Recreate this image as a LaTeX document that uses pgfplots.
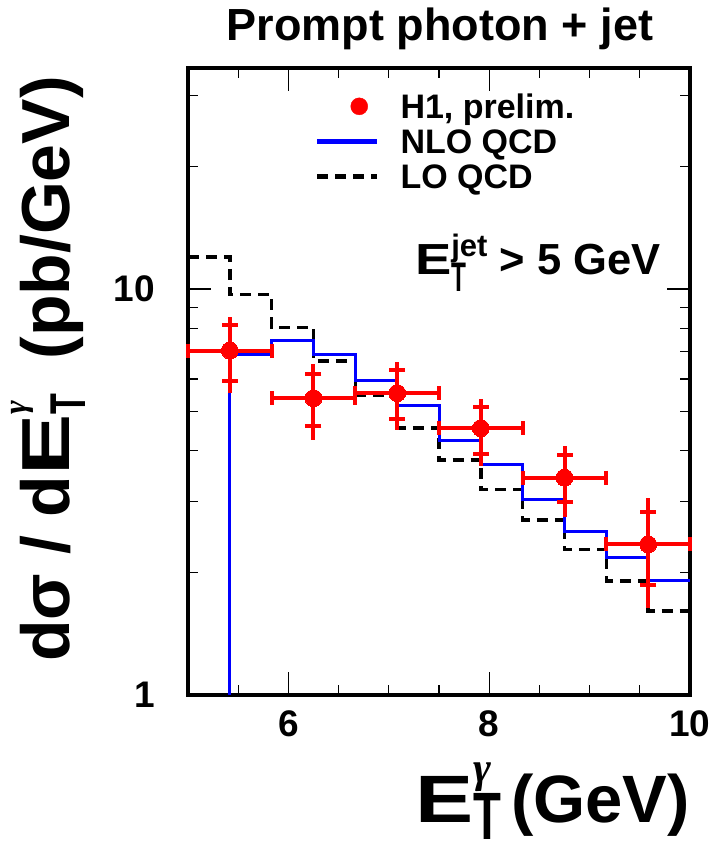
\documentclass[border=0pt]{standalone}
\usepackage{fontspec}
\setmainfont{Liberation Sans}
\newfontfamily\gfont{Liberation Serif}
\usepackage{graphicx}
\usepackage{pgfplots}
\usepackage{pgfplotstable}
\pgfplotsset{compat=1.18}

% sub- and superscript stacked at the same x, ROOT style
\newcommand{\SubSup}[2]{%
  \setbox0=\hbox{#1}\setbox2=\hbox{#2}%
  \ifdim\wd0>\wd2 \dimen0=\wd0 \else \dimen0=\wd2 \fi
  \rlap{\box0}\rlap{\box2}\hspace*{\dimen0}}
\newcommand{\gam}[1]{{\fontsize{#1}{#1}\selectfont\gfont\itshape γ}}

% data: x, y, half bin width, total +/-, stat band edges, bin edges
\pgfplotstableread{
x       y     ex      tp    tm    su    sd    xl      xr
5.4167  7.05  0.4167  1.50  1.51  8.15  5.93  5.0000  5.8333
6.2500  5.38  0.4167  1.14  1.13  6.17  4.60  5.8333  6.6667
7.0833  5.54  0.4167  1.06  1.05  6.32  4.78  6.6667  7.5000
7.9167  4.54  0.4167  0.81  0.87  5.13  3.92  7.5000  8.3333
8.7500  3.43  0.4167  0.68  0.68  3.89  2.99  8.3333  9.1667
9.5833  2.35  0.4167  0.70  0.71  2.83  1.87  9.1667  10.000
}\hone

% NLO QCD histogram (left bin edges)
\pgfplotstableread{
x       y
5.4167  1
5.4167  6.91
5.8333  7.46
6.2500  6.91
6.6667  5.95
7.0833  5.15
7.5000  4.23
7.9167  3.69
8.3333  3.03
8.7500  2.53
9.1667  2.18
9.5833  1.91
10.000  1.91
}\nlo

% LO QCD histogram (left bin edges)
\pgfplotstableread{
x       y
5.0000  12.0
5.4167  9.70
5.8333  8.03
6.2500  6.65
6.6667  5.46
7.0833  4.55
7.5000  3.79
7.9167  3.21
8.3333  2.70
8.7500  2.28
9.1667  1.91
9.5833  1.61
10.000  1.61
}\lo

\begin{document}
\begin{tikzpicture}
\useasboundingbox (-188pt,-151pt) rectangle (527pt,695pt);
\begin{axis}[
    scale only axis,
    width=502pt, height=627pt,
    at={(0,0)}, anchor=south west,
    xmin=5, xmax=10,
    ymode=log, ymin=1, ymax=35,
    xtick={6,8,10}, xticklabels={6,8,10},
    minor xtick={5.5,6.5,7,7.5,8.5,9,9.5},
    ytick={1,10}, yticklabels={1,10},
    minor ytick={2,3,4,5,6,7,8,9,20,30},
    major tick length=23pt, minor tick length=10pt,
    tick style={black, line width=1.2pt},
    axis line style={line width=4pt},
    tick label style={font=\fontsize{37}{40}\selectfont\bfseries},
    xticklabel style={anchor=north, inner sep=0pt, yshift=-15pt},
    yticklabel style={anchor=east, inner sep=0pt, xshift=-33pt},
    title={Prompt photon + jet},
    title style={at={(0.502,1.035)}, anchor=base, inner sep=0pt,
        font=\fontsize{45}{50}\selectfont\bfseries},
    xlabel={\scalebox{1.3}[1]{E}\SubSup{\raisebox{-0.25em}{\scalebox{0.68}[1.0]{T}}}{\raisebox{0.6em}{\gam{43pt}}}\hspace{0.15em}(GeV)},
    xlabel style={at={(1,-0.2041)}, anchor=base east, inner sep=0pt,
        font=\fontsize{67}{70}\selectfont\bfseries},
    ylabel={dσ / d\scalebox{1.35}[1]{E}\SubSup{\raisebox{-0.23em}{\scalebox{0.5}[0.74]{T}}}{\raisebox{0.64em}{\gam{33pt}}}\hspace{0.5em}(pb/GeV)},
    ylabel style={at={(-0.2351,0.9872)}, anchor=base east, inner sep=0pt,
        font=\fontsize{68}{72}\selectfont\bfseries},
    legend style={at={(0.253,0.958)}, anchor=north west, draw=none, fill=none,
        inner sep=0pt, outer sep=0pt, row sep=4pt,
        font=\fontsize{34}{40}\selectfont\bfseries,
        nodes={inner sep=0pt, text height=24pt, text depth=7pt},
        /tikz/every odd column/.append style={column sep=21pt}},
    legend cell align=left,
    clip mode=individual,
]
\addlegendimage{legend image code/.code={\fill[red] (42pt,3.5pt) circle (8.5pt);}}
\addlegendentry{H1, prelim.}
\addlegendimage{legend image code/.code={\draw[blue, line width=4.5pt] (0pt,3.5pt) -- (60pt,3.5pt);}}
\addlegendentry{NLO QCD}
\addlegendimage{legend image code/.code={\draw[black, line width=4.5pt, dash pattern=on 11pt off 7pt] (0pt,3.5pt) -- (60pt,3.5pt);}}
\addlegendentry{LO QCD}

\addplot[forget plot, const plot mark left, black, line width=3.5pt,
    dash pattern=on 11pt off 7pt] table[x=x, y=y] {\lo};
\addplot[forget plot, const plot mark left, blue, line width=3pt] table[x=x, y=y] {\nlo};

% total uncertainties and bin widths
\addplot[forget plot, only marks, mark=none,
    error bars/.cd, x dir=both, x explicit, y dir=both, y explicit,
    error mark=none, error bar style={red, line width=4pt}]
    table[x=x, y=y, x error=ex, y error plus=tp, y error minus=tm] {\hone};
% statistical uncertainty ticks
\addplot[forget plot, only marks, mark=-, mark size=8pt, red,
    mark options={line width=4pt}] table[x=x, y=su] {\hone};
\addplot[forget plot, only marks, mark=-, mark size=8pt, red,
    mark options={line width=4pt}] table[x=x, y=sd] {\hone};
% bin edge ticks
\addplot[forget plot, only marks, mark=|, mark size=7pt, red,
    mark options={line width=4pt}] table[x=xl, y=y] {\hone};
\addplot[forget plot, only marks, mark=|, mark size=7pt, red,
    mark options={line width=4pt}] table[x=xr, y=y] {\hone};
% data points
\addplot[forget plot, only marks, mark=*, mark size=8.5pt, red,
    mark options={fill=red, draw=red, line width=0pt}]
    table[x=x, y=y] {\hone};

\node[anchor=base west, inner sep=0pt, font=\fontsize{43.5}{46}\selectfont\bfseries]
    at (rel axis cs:0.452,0.670)
    {\scalebox{1.25}[1]{E}\SubSup{\raisebox{-0.37em}{\scalebox{0.56}[0.95]{T}}}{\raisebox{0.42em}{\fontsize{31}{31}\selectfont jet}} > 5 GeV};
\end{axis}
\end{tikzpicture}
\end{document}
